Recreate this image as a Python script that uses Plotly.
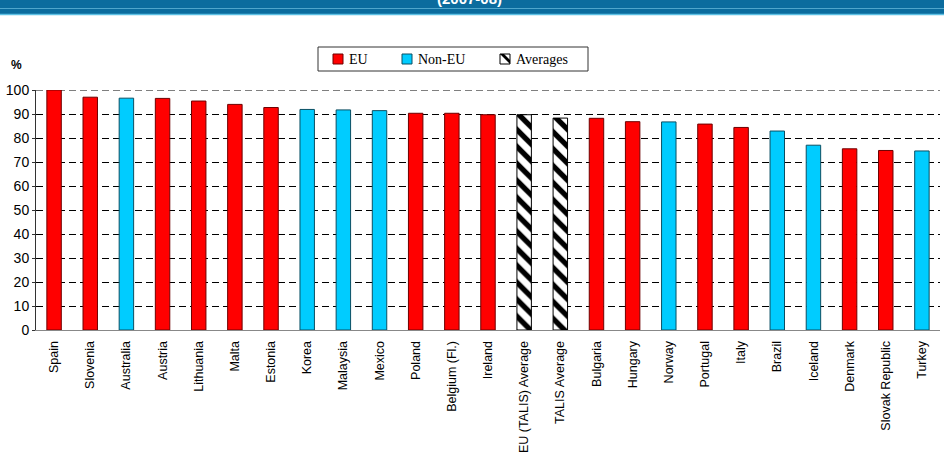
import plotly.graph_objects as go

categories = ["Spain", "Slovenia", "Australia", "Austria", "Lithuania", "Malta", "Estonia",
              "Korea", "Malaysia", "Mexico", "Poland", "Belgium (Fl.)", "Ireland",
              "EU (TALIS) Average", "TALIS Average", "Bulgaria", "Hungary", "Norway",
              "Portugal", "Italy", "Brazil", "Iceland", "Denmark", "Slovak Republic", "Turkey"]
values = [100.0, 97.0, 96.6, 96.5, 95.4, 94.0, 92.7, 91.9, 91.7, 91.4, 90.3, 90.3, 89.7,
          89.7, 88.3, 88.2, 86.8, 86.7, 85.8, 84.4, 82.9, 77.0, 75.5, 74.8, 74.6]
groups = ["EU", "EU", "Non-EU", "EU", "EU", "EU", "EU",
          "Non-EU", "Non-EU", "Non-EU", "EU", "EU", "EU",
          "Averages", "Averages", "EU", "EU", "Non-EU",
          "EU", "EU", "Non-EU", "Non-EU", "EU", "EU", "Non-EU"]
legend_names = ["EU", "Non-EU", "Averages"]
y_ticks = [0, 10, 20, 30, 40, 50, 60, 70, 80, 90, 100]

W, H = 944, 458
L, R, T, B = 36, 4, 90, 128
pw, ph = W - L - R, H - T - B

def px2x(p):
    return (p - L) / pw

def px2y(p):
    return (H - B - p) / ph

fills = {"EU": "#FF0000", "Non-EU": "#00CCFF", "Averages": "white"}
edges = {"EU": "#6E0000", "Non-EU": "#0B4F63", "Averages": "black"}

fig = go.Figure()
for g in legend_names:
    xs = [c for c, gg in zip(categories, groups) if gg == g]
    ys = [v for v, gg in zip(values, groups) if gg == g]
    marker = dict(color=fills[g], line=dict(color=edges[g], width=1))
    if g == "Averages":
        marker["pattern"] = dict(shape="\\", fgcolor="black", bgcolor="white",
                                 fgopacity=1, size=12, solidity=0.45)
    fig.add_trace(go.Bar(x=xs, y=ys, name=g, marker=marker, width=0.4, showlegend=False))

fig.update_layout(
    width=W, height=H,
    margin=dict(l=L, r=R, t=T, b=B),
    barmode="overlay",
    plot_bgcolor="white", paper_bgcolor="white",
    font=dict(family="Arial, Liberation Sans, sans-serif", color="black"),
    xaxis=dict(type="category", categoryorder="array", categoryarray=categories,
               tickangle=-90, tickfont=dict(size=12.5), showline=True, linecolor="#888888",
               linewidth=1, ticks="", showgrid=False, ticklabelstandoff=5,
               range=[-0.5, len(categories) - 0.5]),
    yaxis=dict(range=[0, 100], tickvals=y_ticks, tickfont=dict(size=14),
               showline=True, linecolor="#333333", linewidth=1, ticks="outside",
               ticklen=3, tickcolor="#333333",
               showgrid=True, gridcolor="black", gridwidth=1, griddash="7px,4px",
               zeroline=False),
)

# gridline at the top (100)
fig.add_shape(type="line", xref="paper", yref="y", x0=0, x1=1, y0=100, y1=100,
              line=dict(color="black", width=1, dash="7px,4px"), layer="below")

# title banner
fig.add_shape(type="rect", xref="paper", yref="paper", x0=px2x(0), x1=px2x(W),
              y0=px2y(15), y1=px2y(0), fillcolor="#0B6C9E", line=dict(width=0), layer="below")
fig.add_shape(type="line", xref="paper", yref="paper", x0=px2x(0), x1=px2x(W),
              y0=px2y(8.5), y1=px2y(8.5), line=dict(color="#4FA6CC", width=1))
fig.add_shape(type="line", xref="paper", yref="paper", x0=px2x(0), x1=px2x(W),
              y0=px2y(14.5), y1=px2y(14.5), line=dict(color="#5CC0E4", width=1.5))
fig.add_annotation(text="<b>(2007-08)</b>", xref="paper", yref="paper",
                   x=px2x(469), y=px2y(9), xanchor="center", yanchor="bottom",
                   showarrow=False, font=dict(size=15, color="white",
                                              family="Arial, Liberation Sans, sans-serif"))
fig.add_annotation(text="<b>%</b>", xref="paper", yref="paper",
                   x=px2x(16), y=px2y(65), xanchor="center", yanchor="middle",
                   showarrow=False, font=dict(size=12))

# legend box (drawn by hand to match the compact layout)
fig.add_shape(type="rect", xref="paper", yref="paper", x0=px2x(318), x1=px2x(588),
              y0=px2y(71), y1=px2y(47), line=dict(color="#333333", width=1),
              fillcolor="white")
swatch_x = {"EU": 333, "Non-EU": 402, "Averages": 500}
for g in legend_names:
    sx = swatch_x[g]
    fig.add_shape(type="rect", xref="paper", yref="paper", x0=px2x(sx), x1=px2x(sx + 10),
                  y0=px2y(64), y1=px2y(54), fillcolor=fills[g],
                  line=dict(color="black" if g == "Averages" else edges[g], width=1))
    if g == "Averages":
        path = "M {} {} L {} {} L {} {} L {} {} Z".format(
            px2x(sx), px2y(54), px2x(sx + 4), px2y(54), px2x(sx + 10), px2y(60),
            px2x(sx + 10), px2y(64))
        fig.add_shape(type="path", xref="paper", yref="paper", path=path,
                      fillcolor="black", line=dict(width=0))
    fig.add_annotation(text=g, xref="paper", yref="paper", x=px2x(sx + 14), y=px2y(59),
                       xanchor="left", yanchor="middle", showarrow=False,
                       font=dict(family="Liberation Serif, Times New Roman, serif", size=14))

fig.write_html("out.html")
